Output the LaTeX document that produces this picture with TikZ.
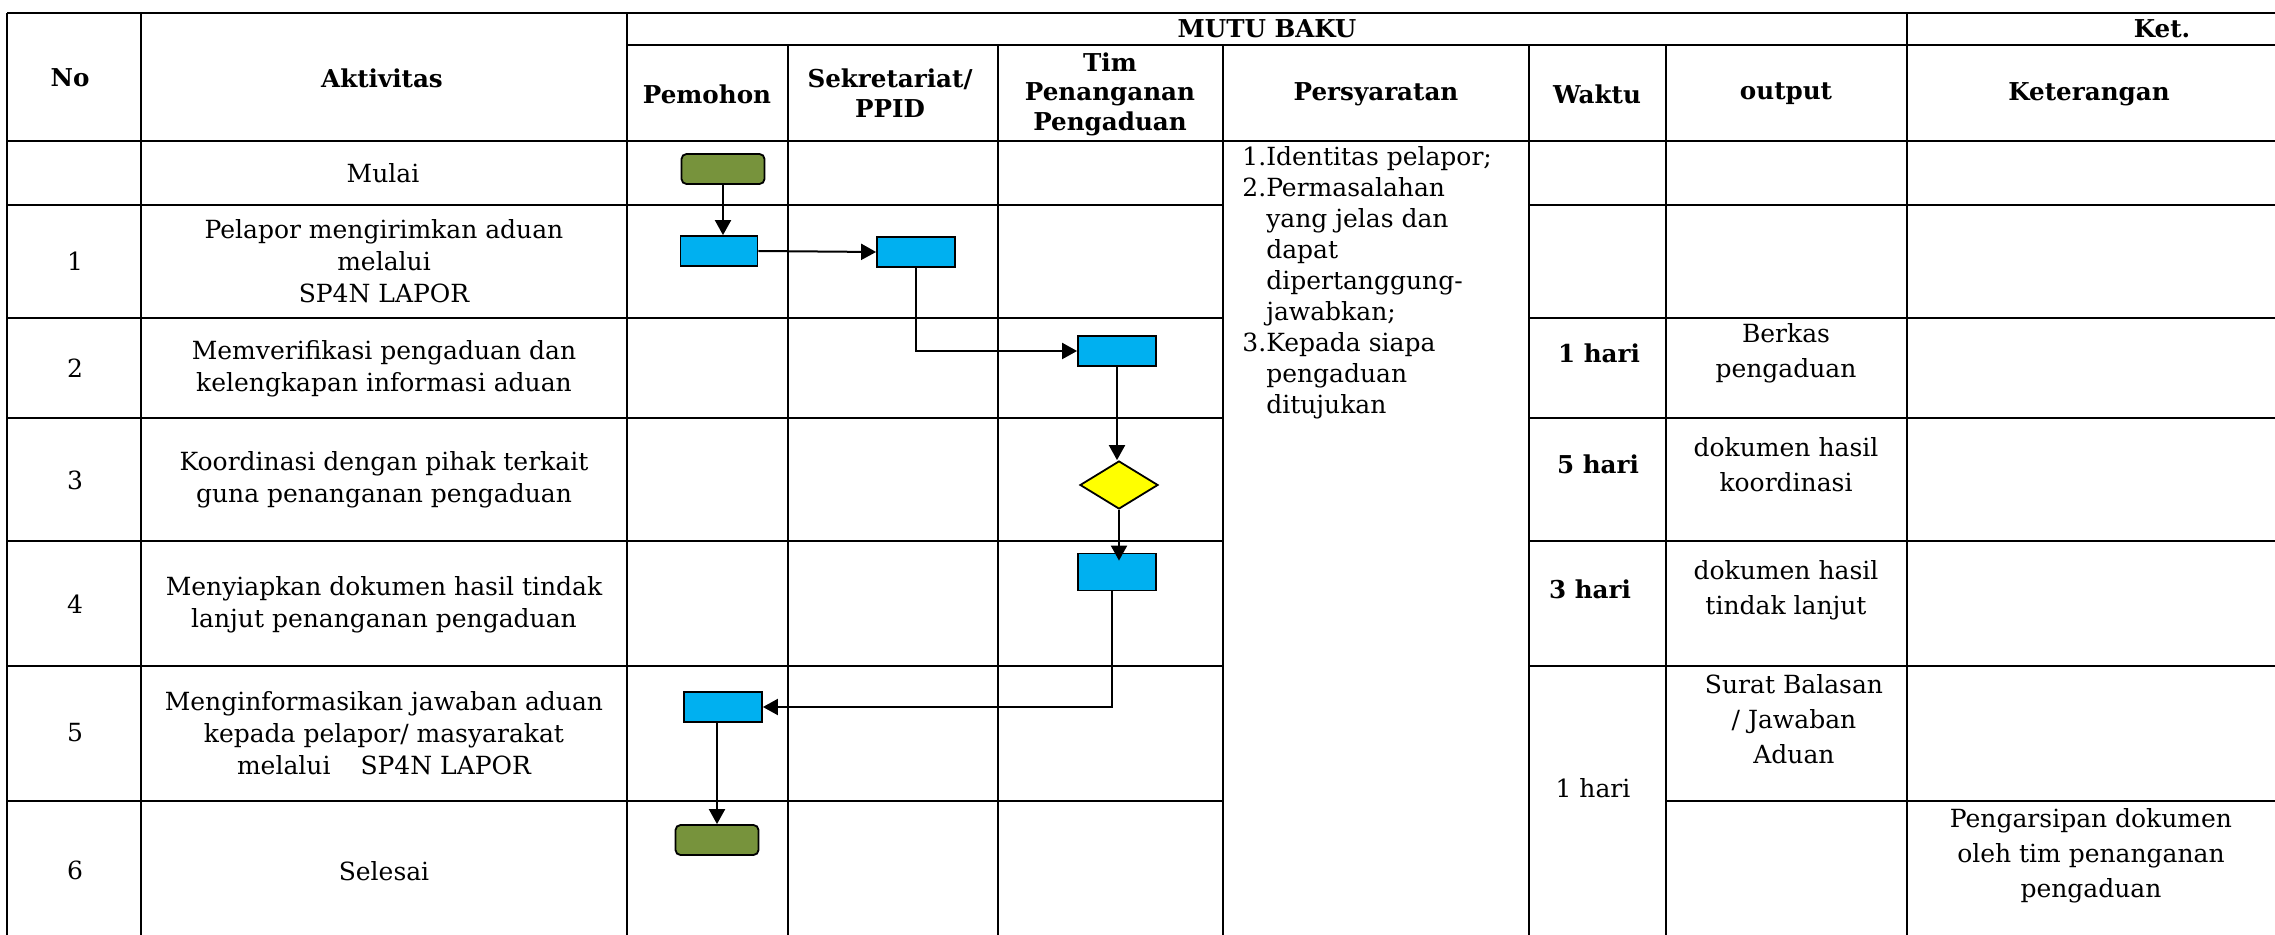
\documentclass[tikz,border=0pt]{standalone}
\usepackage{fontspec}
\setmainfont{DejaVu Serif}
\usetikzlibrary{shapes.geometric,arrows.meta}
\definecolor{termgreen}{HTML}{77933C}
\definecolor{procblue}{HTML}{00B0F0}
\definecolor{decyellow}{HTML}{FFFF00}
\begin{document}
\begin{tikzpicture}[x=0.5pt,y=-0.5pt,
  gridline/.style={line width=1.25pt},
  hdr/.style={font=\fontsize{12.3}{14.8}\selectfont\bfseries, align=center, inner sep=0pt},
  body/.style={font=\fontsize{12.5}{16}\selectfont, align=center, inner sep=0pt},
  outtxt/.style={font=\fontsize{12.5}{17.5}\selectfont, align=center, inner sep=0pt},
  waktubold/.style={font=\fontsize{12.3}{15}\selectfont\bfseries, inner sep=0pt},
  procbox/.style={draw, fill=procblue, line width=0.9pt, inner sep=0pt, minimum width=39pt, minimum height=15pt},
  termbox/.style={draw, fill=termgreen, line width=0.9pt, rounded corners=2.5pt, inner sep=0pt, minimum width=41.5pt, minimum height=15pt},
  decbox/.style={diamond, draw, fill=decyellow, line width=0.9pt, inner sep=0pt, aspect=1.6, minimum width=39pt, minimum height=24pt},
  flow/.style={-{Triangle[length=7.5pt,width=8pt]}, line width=1pt}]

\fill[white] (0,0) rectangle (2275,935);
\useasboundingbox (0,0) rectangle (2275,935);

% ---------- grid ----------
\draw[gridline] (7,13) -- (2275,13);
\draw[gridline] (627,45) -- (2275,45);
\draw[gridline] (7,141) -- (2275,141);
\foreach \yy in {205,318,418,541,666} {
  \draw[gridline] (7,\yy) -- (1223,\yy);
  \draw[gridline] (1529,\yy) -- (2275,\yy);
}
\draw[gridline] (7,801) -- (1223,801);
\draw[gridline] (1666,801) -- (2275,801);
\foreach \xx in {7,141,627,1907} \draw[gridline] (\xx,13) -- (\xx,935);
\foreach \xx in {788,998,1223,1529,1666} \draw[gridline] (\xx,45) -- (\xx,935);

% ---------- header ----------
\node[hdr] (hNo) at (70,78) {No};
\node[hdr] (hAkt) at (382,78) {Aktivitas};
\node[hdr] (hMutu) at (1267,29) {MUTU BAKU};
\node[hdr] (hKet) at (2162,29) {Ket.};
\node[hdr] (hPem) at (707,94) {Pemohon};
\node[hdr] (hSek) at (890,93) {Sekretariat/\\PPID};
\node[hdr] (hTim) at (1110,94) {Tim\\Penanganan\\Pengaduan};
\node[hdr] (hPer) at (1376,94) {Persyaratan};
\node[hdr] (hWak) at (1597,94) {Waktu};
\node[hdr] (hOut) at (1786,94) {output};
\node[hdr] (hKtr) at (2089,94) {Keterangan};

% ---------- No column ----------
\node[body] (n1) at (75,261) {1};
\node[body] (n2) at (75,368) {2};
\node[body] (n3) at (75,480) {3};
\node[body] (n4) at (75,604) {4};
\node[body] (n5) at (75,733) {5};
\node[body] (n6) at (75,870) {6};

% ---------- Aktivitas ----------
\node[body] (a0) at (383,173) {Mulai};
\node[body] (a1) at (384,261) {Pelapor mengirimkan aduan\\melalui\\SP4N LAPOR};
\node[body] (a2) at (384,369) {Memverifikasi pengaduan dan\\kelengkapan informasi aduan};
\node[body] (a3) at (384,480) {Koordinasi dengan pihak terkait\\guna penanganan pengaduan};
\node[body] (a4) at (384,605) {Menyiapkan dokumen hasil tindak\\lanjut penanganan pengaduan};
\node[body] (a5) at (384,733) {Menginformasikan jawaban aduan\\kepada pelapor/ masyarakat\\melalui\hspace{1.2em}SP4N LAPOR};
\node[body] (a6) at (384,871) {Selesai};

% ---------- Persyaratan ----------
\node[anchor=north west, inner sep=0pt, font=\fontsize{12.5}{15.5}\selectfont] (syarat) at (1242,143)
 {\begin{tabular}{@{}l@{}l@{}}
  1. & Identitas pelapor;\\
  2. & Permasalahan\\
     & yang jelas dan\\
     & dapat\\
     & dipertanggung-\\
     & jawabkan;\\
  3. & Kepada siapa\\
     & pengaduan\\
     & ditujukan
  \end{tabular}};

% ---------- Waktu ----------
\node[waktubold] (w2) at (1599,353) {1 hari};
\node[waktubold] (w3) at (1598,464) {5 hari};
\node[waktubold] (w4) at (1590,589) {3 hari};
\node[body] (w5) at (1593,788) {1 hari};

% ---------- output ----------
\node[outtxt] (o2) at (1786,353) {Berkas\\pengaduan};
\node[outtxt] (o3) at (1786,465) {dokumen hasil\\koordinasi};
\node[outtxt] (o4) at (1786,590) {dokumen hasil\\tindak lanjut};
\node[outtxt] (o5) at (1794,719) {Surat Balasan\\/ Jawaban\\Aduan};

% ---------- Keterangan ----------
\node[outtxt] (k6) at (2091,856) {Pengarsipan dokumen\\oleh tim penanganan\\pengaduan};

% ---------- flow shapes ----------
\node[termbox] (mulai) at (723,169) {};
\node[procbox, minimum width=38.5pt] (p1) at (719,251) {};
\node[procbox] (p2) at (916,252) {};
\node[procbox] (p3) at (1117,351) {};
\node[decbox] (d3) at (1119,485) {};
\node[procbox, minimum height=18.5pt] (p4) at (1117,572) {};
\node[procbox] (p5) at (723,707) {};
\node[termbox] (selesai) at (717,840) {};

% ---------- connectors ----------
\draw[flow] (mulai.south) -- (mulai.south |- p1.north);
\draw[flow] (p1.east) -- (p2.west);
\draw[flow] (p2.south) |- (p3.west);
\draw[flow] (p3.south) -- (p3.south |- d3.north);
\draw[flow, shorten >=-4pt] (d3.south) -- (d3.south |- p4.north);
\draw[flow] ([xshift=-2.5pt]p4.south) |- (p5.east);
\draw[flow] (selesai.north |- p5.south) -- (selesai.north);
\end{tikzpicture}
\end{document}
